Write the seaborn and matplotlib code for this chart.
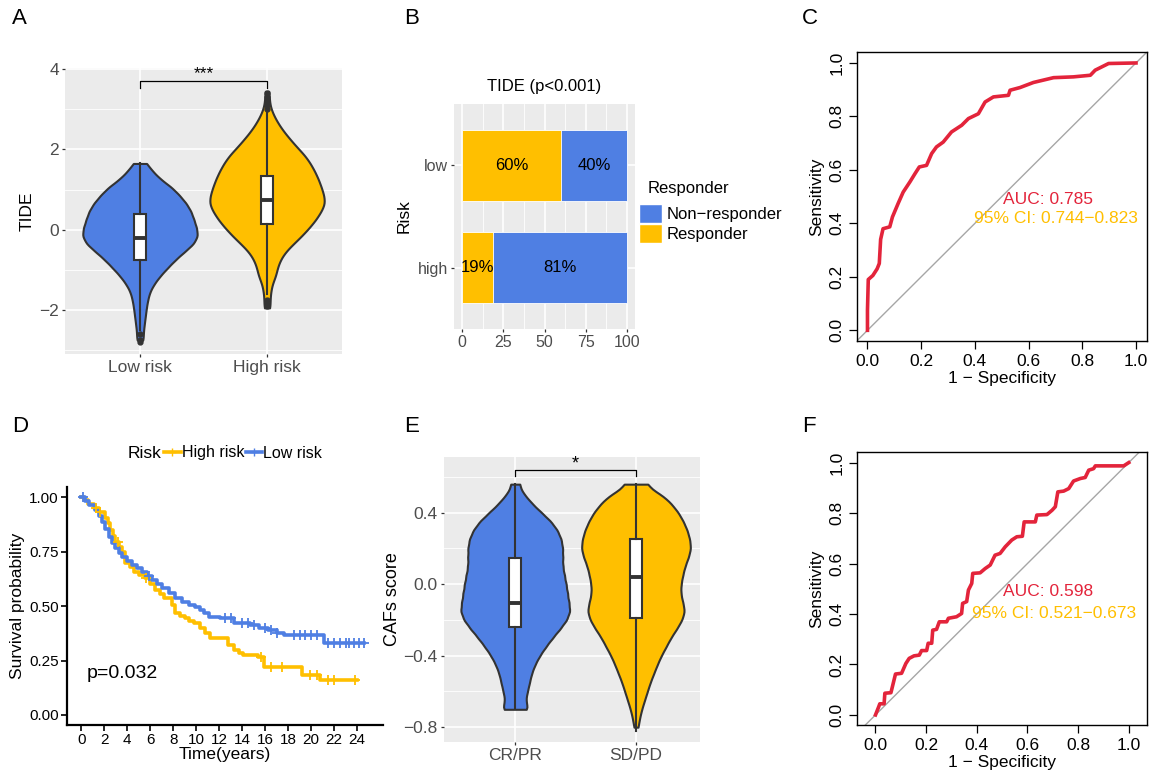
"""
Figura compuesta: TIDE, respuesta, ROC, supervivencia y CAFs score.
"""

import matplotlib
matplotlib.use("Agg")
import matplotlib.pyplot as plt
import numpy as np
import pandas as pd
import seaborn as sns
from matplotlib.lines import Line2D
from matplotlib.patches import Patch
from matplotlib.ticker import MultipleLocator

plt.rcParams["font.family"] = ["Liberation Sans", "DejaVu Sans"]

BLUE = "#4F7FE3"
YELLOW = "#FFBF00"
RED = "#E3243B"
EDGE = "#333333"
PANEL_BG = "#EBEBEB"

# --- A: TIDE por grupo de riesgo (perfil del violín leído como niveles/cuentas)
tide_groups = ["Low risk", "High risk"]
tide_low_levels = [-2.75, -2.55, -2.35, -2.15, -1.95, -1.75, -1.55, -1.35, -1.15, -0.95, -0.75,
                   -0.55, -0.35, -0.15, 0.05, 0.25, 0.45, 0.65, 0.85, 1.05, 1.25, 1.45, 1.65]
tide_low_counts = [10, 10, 13, 16, 19, 23, 29, 42, 60, 82, 105,
                   132, 160, 172, 168, 160, 152, 138, 118, 95, 62, 38, 20]
tide_high_levels = [-1.95, -1.75, -1.55, -1.35, -1.15, -0.95, -0.75, -0.55, -0.35, -0.15, 0.05,
                    0.25, 0.45, 0.65, 0.85, 1.05, 1.25, 1.45, 1.65, 1.85, 2.05, 2.25, 2.45,
                    2.65, 2.85, 3.05, 3.25, 3.45]
tide_high_counts = [9, 8, 10, 14, 24, 28, 36, 50, 72, 95, 115,
                    133, 147, 158, 155, 148, 140, 130, 118, 103, 82, 63, 45,
                    30, 18, 9, 6, 6]
tide_q1 = [-0.75, 0.15]
tide_med = [-0.2, 0.75]
tide_q3 = [0.4, 1.35]
tide_whislo = [-2.5, -1.6]
tide_whishi = [1.65, 2.9]
tide_fliers = [[-2.6, -2.75, -2.8], [-1.75, -1.85, -1.9, 3.0, 3.1, 3.2, 3.3, 3.4]]

# --- B: proporción de respondedores
risk_levels = ["low", "high"]
responder_pct = [60, 19]
nonresponder_pct = [40, 81]

# --- C: curva ROC TIDE
roc_c_fpr = [0.0, 0.0, 0.003, 0.02, 0.036, 0.044, 0.049, 0.058, 0.083, 0.093, 0.114, 0.133,
             0.158, 0.177, 0.193, 0.22, 0.239, 0.257, 0.282, 0.313, 0.351, 0.376, 0.413,
             0.438, 0.469, 0.525, 0.531, 0.568, 0.618, 0.693, 0.767, 0.83, 0.848, 0.898, 1.0]
roc_c_tpr = [0.0, 0.075, 0.19, 0.205, 0.23, 0.25, 0.34, 0.38, 0.387, 0.424, 0.474, 0.517,
             0.555, 0.586, 0.611, 0.617, 0.661, 0.686, 0.704, 0.742, 0.767, 0.792, 0.81,
             0.854, 0.873, 0.879, 0.898, 0.908, 0.927, 0.945, 0.948, 0.954, 0.973, 0.998, 1.0]

# --- D: Kaplan-Meier
km_high_time = [0, 0.2, 0.6, 1.07, 1.5, 2.09, 2.3, 2.52, 2.75, 2.96, 3.25, 3.54, 3.83, 4.2,
                4.55, 5.05, 5.57, 6.0, 6.44, 6.8, 7.16, 7.89, 8.18, 8.6, 9.05, 9.4, 9.77,
                10.36, 10.8, 11.2, 12.8, 13.26, 13.7, 14.1, 15.4, 15.9, 19.2, 20.8, 24.0]
km_high_surv = [1.0, 0.988, 0.97, 0.949, 0.93, 0.903, 0.88, 0.85, 0.82, 0.796, 0.773, 0.75,
                0.697, 0.68, 0.658, 0.643, 0.628, 0.6, 0.574, 0.555, 0.536, 0.505, 0.467,
                0.455, 0.444, 0.432, 0.421, 0.398, 0.375, 0.352, 0.322, 0.299, 0.285, 0.276,
                0.268, 0.222, 0.184, 0.161, 0.161]
km_low_time = [0, 0.3, 0.7, 1.22, 1.5, 1.8, 2.1, 2.38, 2.7, 2.96, 3.25, 3.54, 4.0, 4.41,
               4.85, 5.28, 5.7, 6.15, 6.6, 7.02, 7.6, 8.18, 8.75, 9.34, 9.85, 10.36, 10.7,
               11.08, 12.1, 13.26, 14.7, 15.5, 16.2, 17.0, 17.6, 21.15, 24.6]
km_low_surv = [1.0, 0.985, 0.965, 0.942, 0.915, 0.888, 0.853, 0.819, 0.79, 0.766, 0.745,
               0.727, 0.708, 0.689, 0.673, 0.658, 0.64, 0.62, 0.6, 0.582, 0.56, 0.536, 0.52,
               0.505, 0.495, 0.482, 0.467, 0.452, 0.444, 0.421, 0.413, 0.4, 0.39, 0.378,
               0.367, 0.329, 0.329]
km_high_censor = [1.3, 1.6, 3.2, 5.6, 15.6, 16.5, 17.5, 19.9, 20.5, 21.5, 22.0, 23.8]
km_low_censor = [0.1, 5.9, 12.5, 13.0, 14.0, 14.5, 15.0, 16.0, 16.5, 17.0, 18.5, 19.0, 19.5,
                 20.0, 20.5, 21.5, 22.0, 22.5, 23.0, 23.3, 23.7, 24.2, 24.6]

# --- E: CAFs score por respuesta
caf_groups = ["CR/PR", "SD/PD"]
caf_crpr_levels = [-0.70, -0.65, -0.60, -0.55, -0.50, -0.45, -0.40, -0.35, -0.30, -0.25, -0.20,
                   -0.15, -0.10, -0.05, 0.00, 0.05, 0.10, 0.15, 0.20, 0.25, 0.30, 0.35, 0.40,
                   0.45, 0.50, 0.56]
caf_crpr_counts = [40, 30, 36, 42, 48, 58, 72, 90, 110, 132, 152,
                   162, 158, 154, 150, 145, 140, 140, 140, 136, 125, 106, 78,
                   50, 28, 16]
caf_sdpd_levels = [-0.80, -0.75, -0.70, -0.65, -0.60, -0.55, -0.50, -0.45, -0.40, -0.35, -0.30,
                   -0.25, -0.20, -0.15, -0.10, -0.05, 0.00, 0.05, 0.10, 0.15, 0.20, 0.25, 0.30,
                   0.35, 0.40, 0.45, 0.50, 0.56]
caf_sdpd_counts = [6, 10, 16, 24, 32, 40, 50, 60, 71, 85, 98,
                   115, 130, 138, 132, 126, 127, 132, 138, 148, 155, 152, 145,
                   134, 120, 100, 75, 40]
caf_q1 = [-0.24, -0.19]
caf_med = [-0.105, 0.04]
caf_q3 = [0.145, 0.255]
caf_whislo = [-0.7, -0.82]
caf_whishi = [0.56, 0.56]

# --- F: curva ROC CAFs
roc_f_fpr = [0.0, 0.013, 0.017, 0.034, 0.037, 0.061, 0.07, 0.079, 0.103, 0.12, 0.133, 0.152,
             0.173, 0.182, 0.202, 0.208, 0.222, 0.226, 0.241, 0.252, 0.281, 0.288, 0.32, 0.34,
             0.344, 0.36, 0.367, 0.38, 0.384, 0.413, 0.433, 0.453, 0.472, 0.492, 0.512, 0.538,
             0.558, 0.58, 0.587, 0.631, 0.637, 0.677, 0.697, 0.71, 0.72, 0.743, 0.763, 0.782,
             0.809, 0.828, 0.842, 0.861, 0.868, 0.921, 0.98, 1.0]
roc_f_tpr = [0.0, 0.033, 0.044, 0.044, 0.086, 0.088, 0.125, 0.162, 0.165, 0.204, 0.224, 0.234,
             0.237, 0.255, 0.255, 0.284, 0.284, 0.336, 0.339, 0.369, 0.369, 0.383, 0.389, 0.402,
             0.442, 0.449, 0.495, 0.521, 0.561, 0.563, 0.58, 0.594, 0.633, 0.64, 0.666, 0.693,
             0.706, 0.708, 0.765, 0.765, 0.792, 0.794, 0.811, 0.825, 0.884, 0.887, 0.897, 0.927,
             0.937, 0.941, 0.97, 0.976, 0.987, 0.987, 0.987, 1.0]

FIG_W, FIG_H = 1156, 782


def px_axes(fig, x0, y0, x1, y1):
    """Crea ejes a partir de coordenadas en píxeles (origen arriba a la izquierda)."""
    return fig.add_axes([x0 / FIG_W, 1 - y1 / FIG_H, (x1 - x0) / FIG_W, (y1 - y0) / FIG_H])


def estilo_gg(ax, size):
    ax.set_facecolor(PANEL_BG)
    for s in ax.spines.values():
        s.set_visible(False)
    ax.set_axisbelow(True)
    ax.tick_params(which="major", length=2.5, width=0.9, color=EDGE,
                   labelcolor="#4D4D4D", labelsize=size, pad=2)
    ax.tick_params(which="minor", length=0)


def estilo_base_r(ax):
    for s in ax.spines.values():
        s.set_color("black")
        s.set_linewidth(1.0)
    ax.tick_params(length=6, width=0.9, color="black", labelsize=12.5, pad=3)
    ax.set_xticks(np.arange(0, 1.01, 0.2))
    ax.set_yticks(np.arange(0, 1.01, 0.2))
    ax.xaxis.set_major_formatter(lambda v, p: f"{v:.1f}")
    ax.yaxis.set_major_formatter(lambda v, p: f"{v:.1f}")
    for lab in ax.get_yticklabels():
        lab.set_rotation(90)
        lab.set_va("center")


def violin_con_caja(ax, groups, levels, counts, q1, med, q3, wlo, whi, fliers, bw):
    frames = [pd.DataFrame({"grupo": g, "valor": np.repeat(lv, ct)})
              for g, lv, ct in zip(groups, levels, counts)]
    df = pd.concat(frames, ignore_index=True)
    sns.violinplot(data=df, x="grupo", y="valor", hue="grupo", order=groups, hue_order=groups,
                   palette=[BLUE, YELLOW], cut=0, inner=None, density_norm="area", width=0.9,
                   bw_method=bw, linewidth=1.5, linecolor=EDGE, saturation=1, legend=False,
                   ax=ax)
    stats = [dict(q1=q1[i], med=med[i], q3=q3[i], whislo=wlo[i], whishi=whi[i], fliers=fliers[i])
             for i in range(len(groups))]
    ax.bxp(stats, positions=range(len(groups)), widths=0.1, patch_artist=True, showcaps=False,
           boxprops=dict(facecolor="white", edgecolor=EDGE, linewidth=1.5),
           medianprops=dict(color=EDGE, linewidth=2.8),
           whiskerprops=dict(color=EDGE, linewidth=1.5),
           flierprops=dict(marker="o", markersize=3.5, markerfacecolor=EDGE,
                           markeredgecolor=EDGE),
           manage_ticks=False, zorder=3)


def panel_a(fig):
    ax = px_axes(fig, 65, 68, 342, 354)
    estilo_gg(ax, 12.5)
    violin_con_caja(ax, tide_groups, [tide_low_levels, tide_high_levels],
                    [tide_low_counts, tide_high_counts], tide_q1, tide_med, tide_q3,
                    tide_whislo, tide_whishi, tide_fliers, bw=0.14)
    ax.set_xlim(-0.59, 1.59)
    ax.set_ylim(-3.1, 4.03)
    ax.yaxis.set_major_locator(MultipleLocator(2))
    ax.yaxis.set_minor_locator(MultipleLocator(1))
    ax.grid(True, which="major", color="white", linewidth=1.2)
    ax.grid(True, which="minor", axis="y", color="white", linewidth=0.6)
    ax.plot([0, 0, 1, 1], [3.53, 3.7, 3.7, 3.53], color="black", linewidth=0.9)
    ax.text(0.5, 3.88, "***", ha="center", va="center", fontsize=12.5)
    ax.set_xlabel("")
    ax.set_ylabel("TIDE", fontsize=12.5, labelpad=3)


def panel_b(fig):
    ax = px_axes(fig, 454, 104, 635, 329)
    estilo_gg(ax, 11.5)
    df_b = pd.DataFrame({"Risk": risk_levels,
                         "total": np.add(responder_pct, nonresponder_pct),
                         "resp": responder_pct})
    sns.barplot(data=df_b, y="Risk", x="total", order=risk_levels, color=BLUE, width=0.7,
                edgecolor="white", linewidth=0.6, saturation=1, ax=ax)
    sns.barplot(data=df_b, y="Risk", x="resp", order=risk_levels, color=YELLOW, width=0.7,
                edgecolor="white", linewidth=0.6, saturation=1, ax=ax)
    for i, (r, n) in enumerate(zip(responder_pct, nonresponder_pct)):
        ax.text(r / 2, i, f"{r}%", ha="center", va="center", fontsize=12)
        ax.text(r + n / 2, i, f"{n}%", ha="center", va="center", fontsize=12)
    ax.set_xlim(-5, 105)
    ax.set_ylim(1.6, -0.6)
    ax.set_xticks([0, 25, 50, 75, 100])
    ax.xaxis.set_minor_locator(MultipleLocator(12.5))
    ax.grid(True, which="major", color="white", linewidth=1.2)
    ax.grid(True, which="minor", axis="x", color="white", linewidth=0.6)
    ax.set_xlabel("")
    ax.set_ylabel("Risk", fontsize=12.5, labelpad=4)
    ax.set_title("TIDE (p<0.001)", fontsize=12, pad=9)
    fig.text(648 / FIG_W, 1 - 188 / FIG_H, "Responder", fontsize=12, ha="left", va="center")
    handles = [Patch(facecolor=BLUE, edgecolor="white"), Patch(facecolor=YELLOW, edgecolor="white")]
    fig.legend(handles, ["Non\u2212responder", "Responder"],
               loc="upper left", bbox_to_anchor=(639 / FIG_W, 1 - 204 / FIG_H),
               frameon=False, fontsize=12, handlelength=1.35, handleheight=1.35,
               labelspacing=0.1, handletextpad=0.3, borderpad=0, borderaxespad=0)


def panel_roc(fig, box, fpr, tpr, xlim, ylim, auc_txt, ci_txt, auc_pos, ci_pos):
    ax = px_axes(fig, *box)
    sns.lineplot(x=fpr, y=tpr, sort=False, estimator=None, color=RED, linewidth=2.6, ax=ax)
    ax.axline((0, 0), (1, 1), color="#A6A6A6", linewidth=1.0, zorder=1)
    ax.set_xlim(*xlim)
    ax.set_ylim(*ylim)
    estilo_base_r(ax)
    ax.set_xlabel("1 \u2212 Specificity", fontsize=12.5, labelpad=2)
    ax.set_ylabel("Sensitivity", fontsize=12.5, labelpad=4)
    ax.text(*auc_pos, auc_txt, color=RED, ha="center", va="center", fontsize=12.5)
    ax.text(*ci_pos, ci_txt, color=YELLOW, ha="center", va="center", fontsize=12.5)


def panel_d(fig):
    ax = px_axes(fig, 67, 487, 383, 725)
    km = pd.concat([
        pd.DataFrame({"t": km_high_time, "s": km_high_surv, "Risk": "High risk"}),
        pd.DataFrame({"t": km_low_time, "s": km_low_surv, "Risk": "Low risk"}),
    ], ignore_index=True)
    sns.lineplot(data=km, x="t", y="s", hue="Risk", palette=[YELLOW, BLUE], estimator=None,
                 sort=False, drawstyle="steps-post", linewidth=2.6, legend=False, ax=ax)
    for times, surv, cens, col in ((km_high_time, km_high_surv, km_high_censor, YELLOW),
                                   (km_low_time, km_low_surv, km_low_censor, BLUE)):
        idx = np.searchsorted(times, cens, side="right") - 1
        ax.plot(cens, np.asarray(surv)[idx], ls="none", marker="+", markersize=7,
                markeredgewidth=1.3, color=col)
    ax.set_xlim(-1.25, 26.25)
    ax.set_ylim(-0.046, 1.047)
    ax.set_xticks(np.arange(0, 25, 2))
    ax.set_yticks([0, 0.25, 0.5, 0.75, 1.0])
    ax.yaxis.set_major_formatter(lambda v, p: f"{v:.2f}")
    for side in ("top", "right"):
        ax.spines[side].set_visible(False)
    for side in ("left", "bottom"):
        ax.spines[side].set_linewidth(1.6)
        ax.spines[side].set_color("black")
    ax.tick_params(length=4, width=1.2, color="black", labelsize=11, pad=2)
    ax.set_xlabel("Time(years)", fontsize=12.5, labelpad=0)
    ax.set_ylabel("Survival probability", fontsize=12.5, labelpad=3)
    ax.text(0.5, 0.19, "p=0.032", fontsize=14, ha="left", va="center")
    fig.text(128 / FIG_W, 1 - 453 / FIG_H, "Risk", fontsize=12.5, ha="left", va="center")
    handles = [Line2D([], [], color=YELLOW, lw=2.6, marker="+", markersize=6),
               Line2D([], [], color=BLUE, lw=2.6, marker="+", markersize=6)]
    fig.legend(handles, ["High risk", "Low risk"], loc="center left",
               bbox_to_anchor=(164 / FIG_W, 1 - 453 / FIG_H), ncol=2, frameon=False,
               fontsize=11.5, handlelength=1.05, handletextpad=0.05, columnspacing=0.1,
               borderpad=0, borderaxespad=0)


def panel_e(fig):
    ax = px_axes(fig, 444, 457, 700, 742)
    estilo_gg(ax, 12.5)
    violin_con_caja(ax, caf_groups, [caf_crpr_levels, caf_sdpd_levels],
                    [caf_crpr_counts, caf_sdpd_counts], caf_q1, caf_med, caf_q3,
                    caf_whislo, caf_whishi, [[], []], bw=0.1)
    ax.set_xlim(-0.59, 1.53)
    ax.set_ylim(-0.883, 0.712)
    ax.yaxis.set_major_locator(MultipleLocator(0.4))
    ax.yaxis.set_minor_locator(MultipleLocator(0.2))
    ax.yaxis.set_major_formatter(lambda v, p: f"{v:.1f}".replace("-", "\u2212"))
    ax.grid(True, which="major", color="white", linewidth=1.2)
    ax.grid(True, which="minor", axis="y", color="white", linewidth=0.6)
    ax.plot([0, 0, 1, 1], [0.605, 0.638, 0.638, 0.605], color="black", linewidth=0.9)
    ax.text(0.5, 0.672, "*", ha="center", va="center", fontsize=13)
    ax.set_xlabel("")
    ax.set_ylabel("CAFs score", fontsize=13, labelpad=2)


def main() -> None:
    fig = plt.figure(figsize=(FIG_W / 100, FIG_H / 100), dpi=100)

    panel_a(fig)
    panel_b(fig)
    panel_roc(fig, (857, 52, 1147, 341), roc_c_fpr, roc_c_tpr, (-0.039, 1.041), (-0.04, 1.041),
              "AUC: 0.785", "95% CI: 0.744\u22120.823", (0.674, 0.489), (0.703, 0.418))
    panel_d(fig)
    panel_e(fig)
    panel_roc(fig, (857, 452, 1147, 725), roc_f_fpr, roc_f_tpr, (-0.073, 1.072), (-0.04, 1.042),
              "AUC: 0.598", "95% CI: 0.521\u22120.673", (0.681, 0.488), (0.707, 0.400))

    for letra, x, y in (("A", 12, 18), ("B", 404, 18), ("C", 802, 18),
                        ("D", 12, 426), ("E", 404, 426), ("F", 802, 426)):
        fig.text(x / FIG_W, 1 - y / FIG_H, letra, fontsize=16, ha="left", va="center")

    fig.savefig("out.png", dpi=100)
    plt.close(fig)


if __name__ == "__main__":
    main()
